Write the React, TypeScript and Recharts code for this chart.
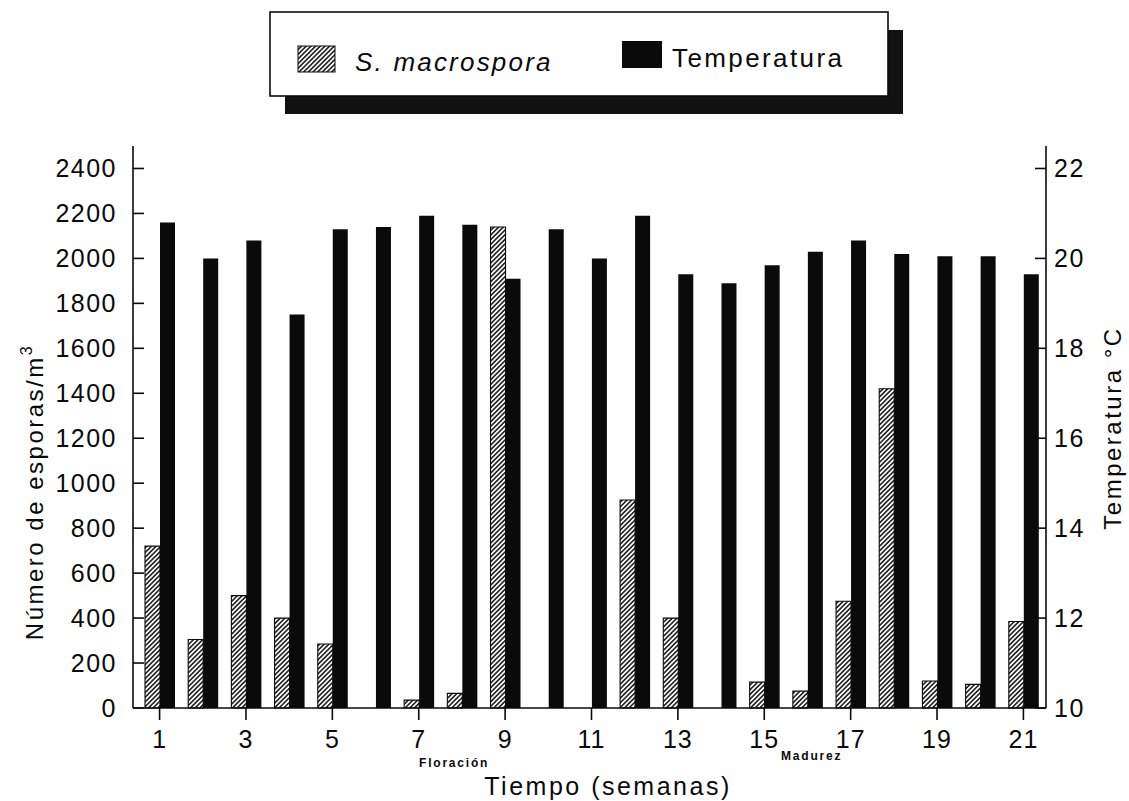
import React from 'react';
import { ComposedChart, Bar, XAxis, YAxis, Legend } from 'recharts';

const weeks = ['1', '2', '3', '4', '5', '6', '7', '8', '9', '10', '11', '12', '13', '14', '15', '16', '17', '18', '19', '20', '21'];
const spores = [720, 305, 500, 400, 285, 0, 35, 65, 2140, 0, 0, 925, 400, 0, 115, 75, 475, 1420, 120, 105, 385];
const temperatures = [20.8, 20.0, 20.4, 18.75, 20.65, 20.7, 20.95, 20.75, 19.55, 20.65, 20.0, 20.95, 19.65, 19.45, 19.85, 20.15, 20.4, 20.1, 20.05, 20.05, 19.65];
const sporeTicks = [0, 200, 400, 600, 800, 1000, 1200, 1400, 1600, 1800, 2000, 2200, 2400];
const tempTicks = [10, 12, 14, 16, 18, 20, 22];

const data = weeks.map((w, i) => ({ week: w, spores: spores[i], temp: temperatures[i] }));

const FONT = '"Liberation Sans", Arial, Helvetica, sans-serif';
const INK = '#0a0a0a';

const LeftTick = (props: any) => {
  const { x, y, payload } = props;
  return (
    <g>
      <line x1={x} x2={x + 11} y1={y} y2={y} stroke={INK} strokeWidth={1.6} />
      <text x={x - 16} y={y + 9} textAnchor="end" fontFamily={FONT} fontSize={25} letterSpacing={1.5} fill={INK}>
        {payload.value}
      </text>
    </g>
  );
};

const RightTick = (props: any) => {
  const { x, y, payload } = props;
  return (
    <g>
      <line x1={x} x2={x - 11} y1={y} y2={y} stroke={INK} strokeWidth={1.6} />
      <text x={x + 8} y={y + 9} textAnchor="start" fontFamily={FONT} fontSize={25} letterSpacing={1.5} fill={INK}>
        {payload.value}
      </text>
    </g>
  );
};

const BottomTick = (props: any) => {
  const { x, y, payload } = props;
  return (
    <g>
      <line x1={x} x2={x} y1={y} y2={y + 12} stroke={INK} strokeWidth={1.6} />
      <text x={x} y={y + 40} textAnchor="middle" fontFamily={FONT} fontSize={25} letterSpacing={1} fill={INK}>
        {payload.value}
      </text>
    </g>
  );
};

const LegendBox = () => (
  <svg width={1129} height={130} style={{ display: 'block' }}>
    <rect x={285} y={30} width={618} height={84} fill="#111" />
    <rect x={270} y={12} width={618} height={84} fill="#fff" stroke={INK} strokeWidth={1.6} />
    <rect x={298} y={46} width={37} height={26} fill="url(#hatch)" stroke={INK} strokeWidth={1} />
    <text x={355} y={71} fontFamily={FONT} fontStyle="italic" fontSize={26} letterSpacing={2.2} fill={INK}>
      S. macrospora
    </text>
    <rect x={622} y={41} width={40} height={27} fill={INK} />
    <text x={672} y={67} fontFamily={FONT} fontSize={26} letterSpacing={2.4} fill={INK}>
      Temperatura
    </text>
  </svg>
);

const LeftLabel = () => (
  <text
    x={43}
    y={492}
    transform="rotate(-90, 43, 492)"
    textAnchor="middle"
    fontFamily={FONT}
    fontSize={24}
    letterSpacing={2.5}
    fill={INK}
  >
    Número de esporas/m
    <tspan dy={-11} fontSize={16}>3</tspan>
  </text>
);

const RightLabel = () => (
  <text
    x={1121}
    y={428}
    transform="rotate(-90, 1121, 428)"
    textAnchor="middle"
    fontFamily={FONT}
    fontSize={24}
    letterSpacing={2.5}
    fill={INK}
  >
    Temperatura °C
  </text>
);

const BottomLabel = () => (
  <g fontFamily={FONT} fill={INK}>
    <text x={608} y={795} textAnchor="middle" fontSize={25} letterSpacing={2.5}>
      Tiempo (semanas)
    </text>
    <text x={419} y={767} fontSize={12} fontWeight="bold" letterSpacing={1.8}>
      Floración
    </text>
    <text x={781} y={760} fontSize={12} fontWeight="bold" letterSpacing={1.8}>
      Madurez
    </text>
  </g>
);

export default function App() {
  return (
    <div style={{ position: 'absolute', left: 0, top: 0, width: 1129, height: 801, background: '#fff' }}>
      <svg width={0} height={0} style={{ position: 'absolute' }}>
        <defs>
          <pattern id="hatch" patternUnits="userSpaceOnUse" width={3.3} height={3.3} patternTransform="rotate(45)">
            <rect width={3.3} height={3.3} fill="#fff" />
            <line x1={1.65} y1={0} x2={1.65} y2={3.3} stroke="#000" strokeWidth={1.4} />
          </pattern>
        </defs>
      </svg>
      <ComposedChart
        width={1129}
        height={801}
        data={data}
        margin={{ top: 146, right: 23, bottom: 43, left: 73 }}
        barGap={0}
        barSize={15}
      >
        <XAxis
          dataKey="week"
          interval={1}
          height={50}
          padding={{ left: 5, right: 1 }}
          tickSize={0}
          tickMargin={0}
          tickLine={false}
          tick={BottomTick}
          axisLine={{ stroke: INK, strokeWidth: 1.6 }}
          label={{ content: BottomLabel }}
        />
        <XAxis
          xAxisId="top"
          dataKey="week"
          orientation="top"
          height={0}
          tick={false}
          tickLine={false}
          axisLine={{ stroke: INK, strokeWidth: 1.6 }}
        />
        <YAxis
          yAxisId="left"
          orientation="left"
          width={60}
          domain={[0, 2500]}
          ticks={sporeTicks}
          interval={0}
          tickSize={0}
          tickMargin={0}
          tickLine={false}
          tick={LeftTick}
          axisLine={{ stroke: INK, strokeWidth: 1.6 }}
          label={{ content: LeftLabel }}
        />
        <YAxis
          yAxisId="right"
          orientation="right"
          width={60}
          domain={[10, 22.5]}
          ticks={tempTicks}
          interval={0}
          tickSize={0}
          tickMargin={0}
          tickLine={false}
          tick={RightTick}
          axisLine={{ stroke: INK, strokeWidth: 1.6 }}
          label={{ content: RightLabel }}
        />
        <Legend
          verticalAlign="middle"
          align="center"
          layout="horizontal"
          content={LegendBox}
          wrapperStyle={{ left: 0, top: 0, width: 1129, height: 130, margin: 0 }}
        />
        <Bar
          yAxisId="left"
          dataKey="spores"
          name="S. macrospora"
          fill="url(#hatch)"
          stroke={INK}
          strokeWidth={1.1}
          isAnimationActive={false}
        />
        <Bar
          yAxisId="right"
          dataKey="temp"
          name="Temperatura"
          fill={INK}
          isAnimationActive={false}
        />
      </ComposedChart>
    </div>
  );
}
